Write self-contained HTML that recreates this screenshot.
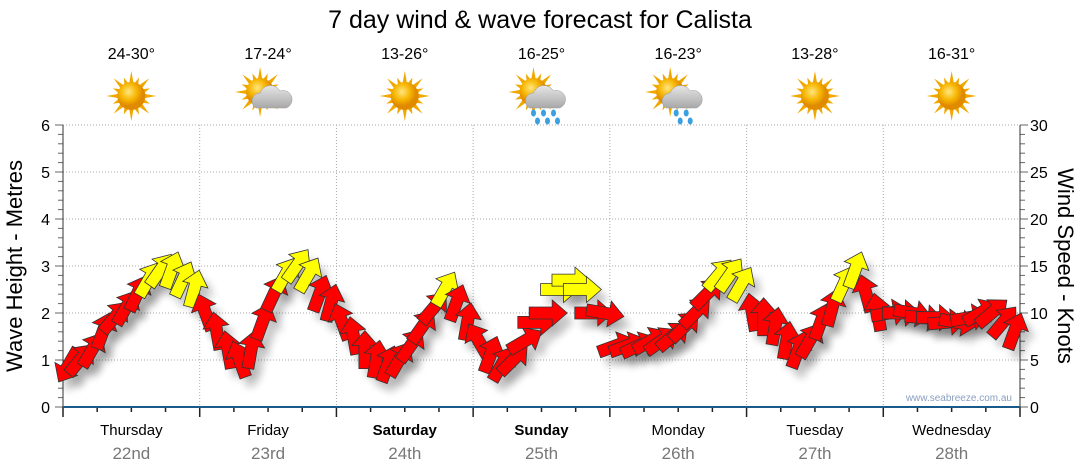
<!DOCTYPE html>
<html><head><meta charset="utf-8"><style>
body{margin:0;background:#fff;}
svg{display:block;font-family:"Liberation Sans",sans-serif;}
</style></head><body>
<svg id="c" width="1080" height="475">
<defs>
<filter id="sh" x="-50%" y="-50%" width="200%" height="200%"><feGaussianBlur stdDeviation="4"/></filter>
<radialGradient id="sun" cx="40%" cy="35%"><stop offset="0" stop-color="#ffe680"/><stop offset="0.6" stop-color="#f7b500"/><stop offset="1" stop-color="#e08a00"/></radialGradient>
<linearGradient id="cl" x1="0" y1="0" x2="0" y2="1"><stop offset="0" stop-color="#e6e6e6"/><stop offset="1" stop-color="#a8a8a8"/></linearGradient>
</defs>
<text x="540" y="28" font-size="25" text-anchor="middle">7 day wind &amp; wave forecast for Calista</text>
<g id="grid"></g><g id="axes"></g><g id="shadows"></g><g id="arrows"></g><g id="top"></g>
<text x="1012" y="401" font-size="10" fill="#8aa0c0" text-anchor="end">www.seabreeze.com.au</text>
<text transform="translate(22,266) rotate(-90)" font-size="22" text-anchor="middle">Wave Height - Metres</text>
<text transform="translate(1058,266) rotate(90)" font-size="22" text-anchor="middle">Wind Speed - Knots</text>
</svg>
<script>
const days=["Thursday","Friday","Saturday","Sunday","Monday","Tuesday","Wednesday"];
const dates=["22nd","23rd","24th","25th","26th","27th","28th"];
const temps=["24-30°","17-24°","13-26°","16-25°","16-23°","13-28°","16-31°"];
const weather=["sun","cloud","sun","rain","showers","sun","sun"];
const waveTicks=[0,1,2,3,4,5,6];
const windTicks=[0,5,10,15,20,25,30];
const windSpeed=[4.5,5,6,8,9.5,10.5,12,13.5,14.5,14.5,13.5,12.5,
10,8,6,5,6,9,12,14,15,14,12,11,
9,7.5,6,5,4.5,5,6.5,8.5,10.5,12.5,11,9,
7,5.5,4.5,5,7,9,10,12.5,13.5,12.5,10,10,
6.5,6.5,6.5,7,7,7.5,8.5,10,12,14,14,13,
10,9.5,8.5,7,6,7,9,10.5,13,14.5,12,10,
10,10,10,9.5,9.5,9,9,9.5,10,10,9,8];
const windDir=[210,40,30,20,40,30,25,30,35,20,25,15,
340,350,350,340,10,20,25,30,35,30,20,15,
340,350,0,10,20,30,35,35,40,30,20,10,
330,20,30,45,60,90,90,90,90,90,90,100,
70,70,65,60,55,50,45,45,45,40,35,30,
350,0,10,10,20,30,20,15,25,20,345,350,
80,90,100,95,90,85,100,80,60,50,40,20];
const NS="http://www.w3.org/2000/svg";
const X0=63,X1=1020,Y0=407,Y1=125;
const xs=t=>X0+(X1-X0)*t/(7*24);
const yw=v=>Y0-(Y0-Y1)*v/6;
const yk=v=>Y0-(Y0-Y1)*v/30;
function mk(p,tag,at){const e=document.createElementNS(NS,tag);for(const k in at)e.setAttribute(k,at[k]);document.getElementById(p).appendChild(e);return e;}
waveTicks.forEach(v=>{
 if(v>0){const g=mk("grid","line",{x1:X0,x2:X1,y1:yw(v),y2:yw(v),stroke:"#aaa","stroke-dasharray":"1,2"});
 
 }
 const t=mk("axes","text",{x:50,y:yw(v)+6,"font-size":16,"text-anchor":"end"});t.textContent=v;
 
 
});
windTicks.forEach(v=>{const t=mk("axes","text",{x:1030,y:yk(v)+6,"font-size":16});t.textContent=v;
 
 });
for(let i=0;i<=30;i++){const y=yk(i),l=i%5==0?8:5;
 mk("axes","line",{x1:X0-l,x2:X0,y1:y,y2:y,stroke:"#666"});
 mk("axes","line",{x1:X1,x2:X1+l,y1:y,y2:y,stroke:"#666"});}
mk("axes","line",{x1:X0,x2:X0,y1:Y1,y2:Y0,stroke:"#333"});
mk("axes","line",{x1:X1,x2:X1,y1:Y1,y2:Y0,stroke:"#333"});
for(let h=0;h<=168;h+=6){const x=xs(h),l=h%24==0?10:5;mk("axes","line",{x1:x,x2:x,y1:Y0,y2:Y0+l,stroke:"#222","stroke-width":1.5});}
mk("axes","line",{x1:X0,x2:X1,y1:Y0,y2:Y0,stroke:"#1a5a8a","stroke-width":2});
days.forEach((d,i)=>{
 const cx=xs(i*24+12);
 if(i>0){const g=mk("grid","line",{x1:xs(i*24),x2:xs(i*24),y1:Y1,y2:Y0,stroke:"#aaa","stroke-dasharray":"1,2"});
 
 }
 const a=mk("axes","text",{x:cx,y:435,"font-size":15,"text-anchor":"middle","font-weight":(i==2||i==3)?"bold":"normal"});a.textContent=d;
 
 
 const b=mk("axes","text",{x:cx,y:459,"font-size":17,"text-anchor":"middle",fill:"#777"});b.textContent=dates[i];
 
 
 const t=mk("top","text",{x:cx,y:59,"font-size":16,"text-anchor":"middle"});t.textContent=temps[i];
 
 
 const g=mk("top","g",{transform:"translate("+cx+",96)"});
 
 
 const w=weather[i];const sx=w=="sun"?0:-8,sy=w=="sun"?0:-4;
 let rays="";for(let k=0;k<16;k++){const an=k*Math.PI/8,r=k%2?20:25;rays+=`<polygon points="${sx+Math.cos(an)*r},${sy+Math.sin(an)*r} ${sx+Math.cos(an+0.2)*12},${sy+Math.sin(an+0.2)*12} ${sx+Math.cos(an-0.2)*12},${sy+Math.sin(an-0.2)*12}" fill="#f0a800"/>`;}
 let s=rays+`<circle cx="${sx}" cy="${sy}" r="14" fill="url(#sun)"/>`;
 if(w!="sun")s+=`<path d="M-12,12 a8,8 0 0 1 4,-15 a11,11 0 0 1 20,-2 a8,8 0 0 1 6,17 z" fill="url(#cl)" stroke="#999" stroke-width="0.5"/>`;
 if(w=="rain"||w=="showers"){const n=w=="rain"?[-8,2,12]:[-2,8];n.forEach(px=>{s+=`<ellipse cx="${px}" cy="17" rx="2.5" ry="3.5" fill="#3aa0e0"/><ellipse cx="${px+4}" cy="25" rx="2.5" ry="3.5" fill="#3aa0e0"/>`;});}
 g.innerHTML=s;
});
const arrowPts="0,-20 13,-5 6,-5 6,18 -6,18 -6,-5 -13,-5";
windSpeed.forEach((v,i)=>{
 const x=xs(i*2+1),y=yk(v),d=windDir[i];
 mk("shadows","polygon",{points:arrowPts,transform:`translate(${x+7},${y+9}) rotate(${d})`,fill:"#000",opacity:0.22,filter:"url(#sh)"});
 const p=mk("arrows","polygon",{points:arrowPts,transform:`translate(${x},${y}) rotate(${d})`,fill:v>=12.5?"#ffff00":"#ff0000",stroke:"#333","stroke-width":0.8});
 
 
});
</script>
</body></html>
